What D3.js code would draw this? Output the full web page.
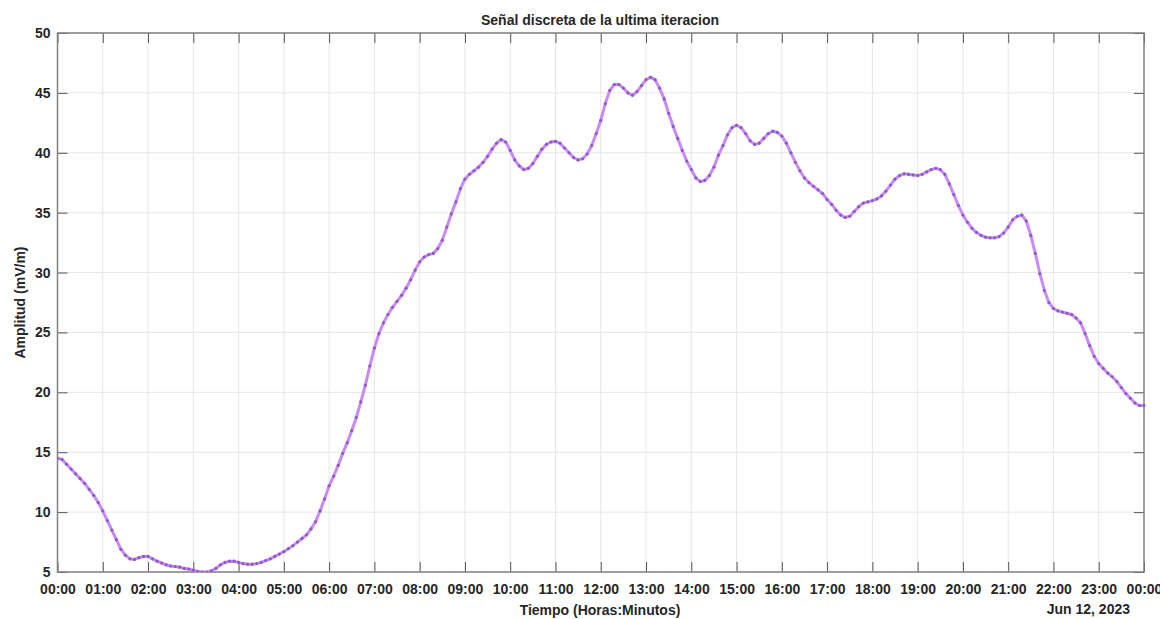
<!DOCTYPE html>
<meta charset="utf-8">
<style>
body { margin: 0; background: #fff; }
svg { display: block; font-family: "Liberation Sans", Arial, sans-serif; }
.grid line { stroke: #e6e6e6; stroke-width: 1; }
.tick text { fill: #262626; font-weight: bold; font-size: 14px; }
.label { fill: #262626; font-weight: bold; font-size: 14px; }
</style>
<body>
<script src="https://d3js.org/d3.v7.min.js"></script>
<script>
// amplitude (mV/m), one sample every 6 minutes from 00:00 Jun 12, 2023
var startTime = new Date(2023, 5, 12, 0, 0);
var stepMinutes = 6;
var amplitude = [
  14.5, 14.4, 14.0, 13.6, 13.2, 12.8, 12.4, 11.9, 11.4, 10.8,
  10.1, 9.3, 8.5, 7.7, 6.9, 6.4, 6.1, 6.05, 6.2, 6.3,
  6.3, 6.1, 5.9, 5.75, 5.6, 5.5, 5.45, 5.4, 5.3, 5.25,
  5.15, 5.05, 5.0, 5.0, 5.1, 5.3, 5.6, 5.8, 5.9, 5.9,
  5.8, 5.7, 5.65, 5.65, 5.7, 5.8, 5.95, 6.1, 6.3, 6.5,
  6.7, 6.95, 7.2, 7.5, 7.8, 8.1, 8.6, 9.2, 10.1, 11.1,
  12.2, 13.0, 13.9, 14.9, 15.8, 16.8, 17.9, 19.2, 20.6, 22.2,
  23.7, 24.9, 25.8, 26.5, 27.1, 27.6, 28.1, 28.7, 29.4, 30.2,
  30.9, 31.3, 31.5, 31.6, 32.0, 32.7, 33.8, 34.9, 35.9, 37.0,
  37.8, 38.2, 38.5, 38.8, 39.2, 39.7, 40.3, 40.8, 41.1, 40.9,
  40.2, 39.4, 38.9, 38.6, 38.7, 39.1, 39.7, 40.3, 40.7, 40.9,
  40.95, 40.8, 40.4, 40.0, 39.6, 39.4, 39.5, 39.9, 40.6, 41.6,
  42.7, 44.1, 45.2, 45.7, 45.7, 45.4, 45.0, 44.8, 45.1, 45.6,
  46.1, 46.3, 46.1, 45.4, 44.5, 43.3, 42.2, 41.2, 40.2, 39.3,
  38.6, 37.9, 37.6, 37.7, 38.1, 38.8, 39.8, 40.6, 41.5, 42.1,
  42.3, 42.1, 41.6, 41.0, 40.7, 40.8, 41.2, 41.6, 41.8, 41.7,
  41.4, 40.8, 40.0, 39.2, 38.5, 37.9, 37.5, 37.2, 36.9, 36.6,
  36.1, 35.7, 35.2, 34.8, 34.6, 34.7, 35.1, 35.5, 35.8, 35.9,
  36.0, 36.15, 36.4, 36.8, 37.3, 37.8, 38.1, 38.25, 38.2, 38.15,
  38.1, 38.2, 38.4, 38.6, 38.7, 38.6, 38.2, 37.4, 36.5, 35.6,
  34.8, 34.2, 33.7, 33.35, 33.1, 32.95, 32.9, 32.9, 33.0, 33.3,
  33.8, 34.4, 34.7, 34.8, 34.3, 33.1, 31.6, 29.9, 28.5, 27.5,
  27.0, 26.8, 26.7, 26.6, 26.5, 26.2, 25.8, 24.9, 23.9, 23.0,
  22.4, 22.0, 21.6, 21.3, 20.9, 20.4, 19.9, 19.5, 19.1, 18.9,
  18.9
];
var yTicks = [5, 10, 15, 20, 25, 30, 35, 40, 45, 50];

var data = amplitude.map(function(v, i) {
  return { t: d3.timeMinute.offset(startTime, i * stepMinutes), v: v };
});

var W = 1160, H = 619;
var margin = {top: 33, right: 16, bottom: 47, left: 57.5};

var svg = d3.select("body").append("svg")
    .attr("width", W)
    .attr("height", H);

var x = d3.scaleTime()
    .domain([startTime, d3.timeDay.offset(startTime, 1)])
    .range([margin.left, W - margin.right]);
var y = d3.scaleLinear()
    .domain([5, 50])
    .range([H - margin.bottom, margin.top]);

var hours = x.ticks(d3.timeHour.every(1));

// grid
svg.append("g").attr("class", "grid")
  .selectAll("line.v").data(hours).enter().append("line")
    .attr("x1", d => x(d)).attr("x2", d => x(d))
    .attr("y1", y(5)).attr("y2", y(50));
svg.append("g").attr("class", "grid")
  .selectAll("line.h").data(yTicks).enter().append("line")
    .attr("x1", x.range()[0]).attr("x2", x.range()[1])
    .attr("y1", d => y(d)).attr("y2", d => y(d));

// axes (ticks pointing inward on all four sides)
var tl = 10;
function styleAxis(g) {
  g.select(".domain").remove();
  g.selectAll(".tick line").attr("stroke", "#555");
}
svg.append("g")
    .attr("transform", "translate(0," + y(5) + ")")
    .call(d3.axisBottom(x).tickValues(hours).tickFormat(d3.timeFormat("%H:%M"))
      .tickSizeInner(-tl).tickSizeOuter(0).tickPadding(12))
    .call(styleAxis);
svg.append("g")
    .attr("transform", "translate(0," + y(50) + ")")
    .call(d3.axisTop(x).tickValues(hours).tickFormat("")
      .tickSizeInner(-tl).tickSizeOuter(0))
    .call(styleAxis);
svg.append("g")
    .attr("transform", "translate(" + x.range()[0] + ",0)")
    .call(d3.axisLeft(y).tickValues(yTicks)
      .tickSizeInner(-tl).tickSizeOuter(0).tickPadding(7))
    .call(styleAxis);
svg.append("g")
    .attr("transform", "translate(" + x.range()[1] + ",0)")
    .call(d3.axisRight(y).tickValues(yTicks).tickFormat("")
      .tickSizeInner(-tl).tickSizeOuter(0))
    .call(styleAxis);

svg.selectAll(".tick text").attr("fill", "#262626");

// box
svg.append("rect")
    .attr("x", x.range()[0]).attr("y", y(50))
    .attr("width", x.range()[1] - x.range()[0])
    .attr("height", y(5) - y(50))
    .attr("fill", "none")
    .attr("stroke", "#808080")
    .attr("stroke-width", 1.5);

// series
svg.append("clipPath").attr("id", "plot")
  .append("rect")
    .attr("x", x.range()[0]).attr("y", y(50) - 3)
    .attr("width", x.range()[1] - x.range()[0] + 3)
    .attr("height", y(5) - y(50) + 3);

var plot = svg.append("g").attr("clip-path", "url(#plot)");
plot.append("path")
    .datum(data)
    .attr("fill", "none")
    .attr("stroke", "#c98af7")
    .attr("stroke-width", 3)
    .attr("d", d3.line().x(d => x(d.t)).y(d => y(d.v)));
plot.selectAll("circle").data(data).enter().append("circle")
    .attr("cx", d => x(d.t))
    .attr("cy", d => y(d.v))
    .attr("r", 1.6)
    .attr("fill", "#8c5cc4");

// labels
svg.append("text").attr("class", "label")
    .attr("x", 600).attr("y", 25)
    .attr("text-anchor", "middle")
    .text("Señal discreta de la ultima iteracion");
svg.append("text").attr("class", "label")
    .attr("x", 600).attr("y", 615)
    .attr("text-anchor", "middle")
    .text("Tiempo (Horas:Minutos)");
svg.append("text").attr("class", "label")
    .attr("x", 1130).attr("y", 614)
    .attr("text-anchor", "end")
    .text("Jun 12, 2023");
svg.append("text").attr("class", "label")
    .attr("transform", "translate(25," + ((y(5) + y(50)) / 2) + ") rotate(-90)")
    .attr("text-anchor", "middle")
    .text("Amplitud (mV/m)");
</script>
</body>
